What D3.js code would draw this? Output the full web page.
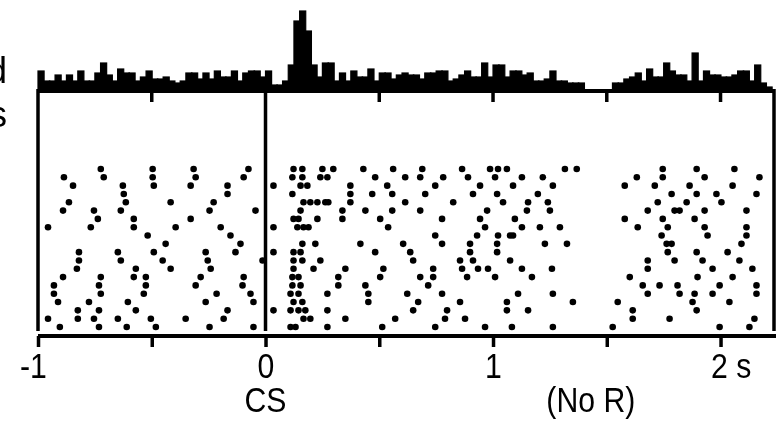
<!DOCTYPE html>
<html>
<head>
<meta charset="utf-8">
<script src="https://cdn.jsdelivr.net/npm/d3@7"></script>
<style>
  body { margin: 0; background: #fff; }
  svg { display: block; }
  text { font-family: "Liberation Sans", Arial, sans-serif; fill: #000; }
</style>
</head>
<body>
<script>
// PSTH bins (25 ms) from -1 s, counts per bin
var binStart = -1.0;
var binWidth = 0.025;
var histCounts = [
  10, 5, 5, 8, 5, 8, 5, 10, 5, 5, 9, 14, 8, 5, 11, 9, 9, 5, 7, 10,
  6, 6, 7, 5, 4, 5, 9, 9, 6, 9, 6, 10, 7, 7, 10, 5, 9, 10, 10, 7,
  10, 3, 3, 5, 13, 35, 40, 30, 13, 7, 14, 14, 5, 9, 5, 10, 7, 7, 11, 5,
  9, 9, 6, 8, 9, 8, 8, 6, 9, 9, 10, 10, 5, 6, 8, 10, 7, 7, 14, 7,
  13, 13, 7, 10, 10, 8, 9, 5, 5, 6, 10, 5, 5, 4, 4, 4, 0, 0, 0, 0,
  0, 4, 4, 6, 7, 9, 5, 11, 7, 7, 14, 10, 8, 8, 5, 19, 5, 10, 8, 8,
  7, 7, 8, 10, 10, 5, 13, 4, 2
];

// spike times (s) for each trial, top row first
var trials = [
  [-0.724, -0.496, -0.316, -0.075, 0.123, 0.162, 0.250, 0.298, 0.430, 0.561, 0.689, 0.864, 0.987, 1.022, 1.061, 1.316, 1.368, 1.746, 1.895, 2.061],
  [-0.886, -0.711, -0.496, -0.307, -0.096, 0.118, 0.162, 0.241, 0.272, 0.482, 0.614, 0.680, 0.781, 0.890, 1.009, 1.127, 1.219, 1.632, 1.746, 1.930, 2.171],
  [-0.846, -0.627, -0.491, -0.329, -0.167, 0.035, 0.154, 0.184, 0.373, 0.535, 0.746, 0.943, 1.088, 1.263, 1.579, 1.711, 1.864, 2.053],
  [-0.623, -0.167, 0.118, 0.373, 0.469, 0.557, 0.702, 0.912, 1.018, 1.197, 1.785, 1.895, 1.982, 2.158],
  [-0.864, -0.614, -0.417, -0.228, 0.167, 0.197, 0.228, 0.263, 0.276, 0.373, 0.614, 0.825, 1.044, 1.154, 1.241, 1.724, 1.851, 2.004],
  [-0.890, -0.754, -0.636, -0.246, -0.044, 0.154, 0.338, 0.439, 0.557, 0.680, 0.974, 1.149, 1.250, 1.680, 1.798, 1.820, 1.930, 2.114],
  [-0.737, -0.579, -0.329, 0.123, 0.145, 0.228, 0.338, 0.504, 0.776, 0.943, 1.096, 1.579, 1.746, 1.886],
  [-0.956, -0.768, -0.579, -0.395, -0.197, 0.035, 0.140, 0.167, 0.189, 0.539, 0.965, 1.127, 1.206, 1.294, 1.636, 1.768, 1.930, 2.114],
  [-0.518, -0.154, 0.746, 0.930, 1.022, 1.075, 1.088, 1.741, 1.943, 2.114],
  [-0.439, -0.110, 0.162, 0.219, 0.417, 0.605, 0.776, 0.899, 1.018, 1.228, 1.325, 1.763, 1.785, 2.092],
  [-0.820, -0.649, -0.491, -0.263, -0.132, 0.035, 0.123, 0.154, 0.482, 0.636, 0.899, 1.018, 1.768, 1.895, 2.031],
  [-0.820, -0.636, -0.452, -0.254, -0.013, 0.123, 0.162, 0.241, 0.649, 0.855, 0.912, 1.075, 1.680, 1.798, 1.921, 2.083],
  [-0.829, -0.570, -0.417, -0.241, 0.123, 0.211, 0.351, 0.518, 0.737, 0.864, 0.934, 0.978, 1.127, 1.259, 1.680, 1.965, 2.140],
  [-0.890, -0.724, -0.579, -0.526, -0.285, -0.096, 0.118, 0.145, 0.320, 0.504, 0.680, 0.737, 0.886, 1.009, 1.171, 1.601, 1.899, 2.053],
  [-0.930, -0.732, -0.526, -0.307, -0.101, 0.118, 0.154, 0.320, 0.439, 0.715, 1.658, 1.732, 1.811, 1.996, 2.158],
  [-0.930, -0.724, -0.535, -0.215, -0.066, 0.110, 0.145, 0.272, 0.452, 0.623, 0.776, 1.110, 1.263, 1.680, 1.820, 1.886, 1.965, 2.158],
  [-0.912, -0.776, -0.605, -0.263, -0.053, 0.123, 0.162, 0.452, 0.671, 0.855, 1.061, 1.351, 1.548, 1.877, 2.039],
  [-0.825, -0.732, -0.570, -0.167, 0.035, 0.110, 0.145, 0.175, 0.272, 0.649, 0.798, 1.061, 1.154, 1.614, 1.895],
  [-0.956, -0.825, -0.754, -0.649, -0.504, -0.351, -0.184, 0.167, 0.197, 0.351, 0.570, 0.789, 0.877, 1.614, 1.776, 2.149],
  [-0.904, -0.732, -0.610, -0.482, -0.246, -0.053, 0.110, 0.132, 0.272, 0.513, 0.746, 0.965, 1.083, 1.263, 1.526, 1.996, 2.127]
];

var tickValues = [-1, -0.5, 0, 0.5, 1, 1.5, 2];
var tickLabels = ["-1", "", "0", "", "1", "", "2 s"];
var eventTimes = [0, 1.43];
var eventLabels = ["CS", "(No R)"];
var sideLabels = ["Unrewarded", "trials"];

var W = 778, H = 440;
var tMin = -1, tMax = 2.235;

var svg = d3.select("body").append("svg")
    .attr("width", W)
    .attr("height", H);

// a touch of blur, the reference is a scanned figure
svg.append("defs").append("filter")
    .attr("id", "soft")
    .append("feGaussianBlur")
    .attr("stdDeviation", 0.55);

var g = svg.append("g").attr("filter", "url(#soft)");

var x = d3.scaleLinear().domain([tMin, tMax]).range([38, 774]);
var yHist = d3.scaleLinear().domain([0, 42]).range([91, 7]);
var yRow = d3.scaleLinear().domain([0, trials.length - 1]).range([169, 327]);

var histBase = 91, rasterBottom = 331, axisY = 336;

// histogram bars
var bins = histCounts.map(function(c, i) {
    return { t0: binStart + i * binWidth, t1: binStart + (i + 1) * binWidth, c: c };
});
g.append("g").selectAll("rect")
    .data(bins)
    .enter()
    .append("rect")
    .attr("x", function(d) { return x(d.t0); })
    .attr("width", function(d) { return x(d.t1) - x(d.t0) + 0.4; })
    .attr("y", function(d) { return yHist(d.c); })
    .attr("height", function(d) { return histBase - yHist(d.c); })
    .attr("fill", "#000")
    .attr("stroke", "#000")
    .attr("stroke-width", function(d) { return d.c > 0 ? 1.2 : 0; });

// histogram baseline + small ticks under it
g.append("line")
    .attr("x1", x(tMin)).attr("x2", x(tMax))
    .attr("y1", histBase).attr("y2", histBase)
    .attr("stroke", "#000").attr("stroke-width", 4);

g.append("g").selectAll("line")
    .data(tickValues.filter(function(v) { return v != -1 && v != 0; }))
    .enter()
    .append("line")
    .attr("x1", function(d) { return x(d); })
    .attr("x2", function(d) { return x(d); })
    .attr("y1", histBase).attr("y2", histBase + 11)
    .attr("stroke", "#000").attr("stroke-width", 3.5);

// frame lines: left, CS, right
g.append("g").selectAll("line")
    .data([tMin, 0, tMax])
    .enter()
    .append("line")
    .attr("x1", function(d) { return x(d); })
    .attr("x2", function(d) { return x(d); })
    .attr("y1", histBase - 2).attr("y2", rasterBottom)
    .attr("stroke", "#000").attr("stroke-width", 3.5);

// raster dots
var spikes = [];
trials.forEach(function(row, i) {
    row.forEach(function(t) { spikes.push({ t: t, trial: i }); });
});
g.append("g").selectAll("circle")
    .data(spikes)
    .enter()
    .append("circle")
    .attr("cx", function(d) { return x(d.t); })
    .attr("cy", function(d) { return yRow(d.trial); })
    .attr("r", 3.3)
    .attr("fill", "#000");

// time axis
var axis = d3.axisBottom(x)
    .tickValues(tickValues)
    .tickSize(11)
    .tickSizeOuter(0)
    .tickPadding(5)
    .tickFormat(function(d, i) { return tickLabels[i]; });

var gx = g.append("g")
    .attr("transform", "translate(0," + axisY + ")")
    .call(axis);
gx.select(".domain").attr("stroke-width", 4).attr("d", "M" + x(tMin) + ",0H" + (x(tMax) + 2));
gx.selectAll(".tick line").attr("stroke-width", 3.5);
gx.selectAll(".tick text")
    .attr("font-size", 36)
    .attr("font-family", "Liberation Sans, Arial, sans-serif")
    .attr("fill", "#000")
    .attr("transform", "scale(0.84,1)")
    .attr("text-anchor", function(d) { return d == 2 ? "start" : "middle"; })
    .attr("dx", function(d) { return d == 2 ? -12 : (d == -1 ? -6 : 0); });

// event labels under axis
g.append("g").selectAll("text")
    .data(eventTimes)
    .enter()
    .append("text")
    .attr("transform", function(d) { return "translate(" + x(d) + ",412) scale(0.84,1)"; })
    .attr("text-anchor", "middle")
    .attr("font-size", 36)
    .text(function(d, i) { return eventLabels[i]; });

// left labels, cut off by the page edge
g.append("g").selectAll("text")
    .data(sideLabels)
    .enter()
    .append("text")
    .attr("x", 7)
    .attr("y", function(d, i) { return 83 + i * 44; })
    .attr("text-anchor", "end")
    .attr("font-size", 36)
    .text(function(d) { return d; });
</script>
</body>
</html>
